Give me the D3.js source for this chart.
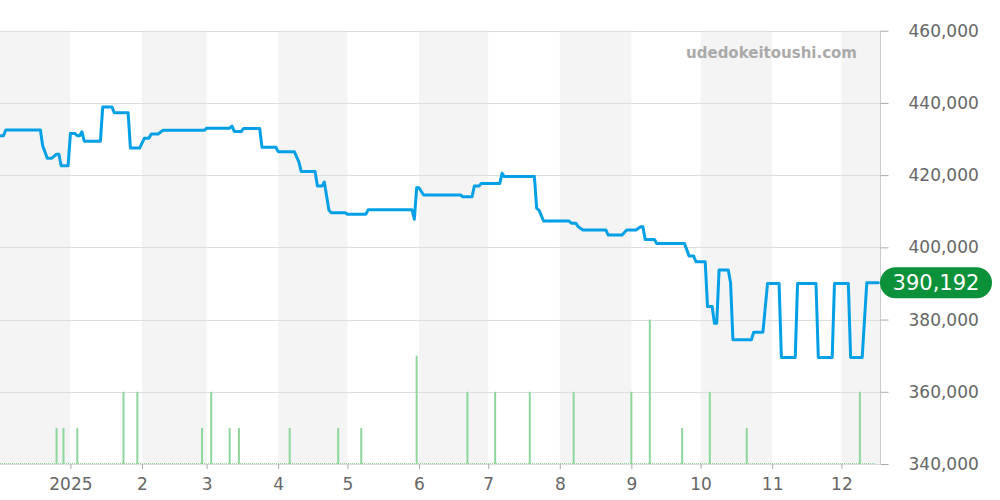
<!DOCTYPE html>
<html>
<head>
<meta charset="utf-8">
<script src="https://cdn.jsdelivr.net/npm/d3@7"></script>
<style>
  html, body { margin: 0; padding: 0; background: #fff; }
  svg { display: block; font-family: "DejaVu Sans", sans-serif; }
</style>
</head>
<body>
<svg id="chart" width="1000" height="500"></svg>
<script>
// ---- data ----
const priceDates = [
  "2024-12-01","2024-12-03","2024-12-04","2024-12-19","2024-12-20","2024-12-22","2024-12-24","2024-12-26","2024-12-27","2024-12-28","2024-12-31",
  "2025-01-01","2025-01-03","2025-01-04","2025-01-05","2025-01-06","2025-01-07","2025-01-14","2025-01-15","2025-01-19","2025-01-20","2025-01-26","2025-01-27","2025-01-31",
  "2025-02-02","2025-02-04","2025-02-05","2025-02-08","2025-02-10","2025-02-28",
  "2025-03-01","2025-03-11","2025-03-12","2025-03-13","2025-03-16","2025-03-17","2025-03-24","2025-03-25","2025-03-31",
  "2025-04-01","2025-04-08","2025-04-10","2025-04-11","2025-04-17","2025-04-18","2025-04-20","2025-04-21","2025-04-23","2025-04-24","2025-04-30",
  "2025-05-01","2025-05-09","2025-05-10","2025-05-29","2025-05-30","2025-05-31",
  "2025-06-01","2025-06-03","2025-06-19","2025-06-20","2025-06-24","2025-06-25","2025-06-27","2025-06-28",
  "2025-07-06","2025-07-07","2025-07-08","2025-07-21","2025-07-22","2025-07-23","2025-07-25",
  "2025-08-05","2025-08-06","2025-08-08","2025-08-09","2025-08-11","2025-08-21","2025-08-22","2025-08-28","2025-08-30",
  "2025-09-03","2025-09-05","2025-09-06","2025-09-07","2025-09-11","2025-09-12","2025-09-24","2025-09-26","2025-09-28","2025-09-29",
  "2025-10-03","2025-10-04","2025-10-06","2025-10-07","2025-10-08","2025-10-09","2025-10-13","2025-10-14","2025-10-15","2025-10-23","2025-10-24","2025-10-28","2025-10-30",
  "2025-11-04","2025-11-05","2025-11-11","2025-11-12","2025-11-20","2025-11-21","2025-11-27","2025-11-28",
  "2025-12-04","2025-12-05","2025-12-10","2025-12-12","2025-12-17"
];
const priceValues = [
  430900,430900,432500,432500,428100,424700,424700,425800,425800,422600,422600,
  431500,431500,430900,430900,432000,429400,429400,438900,438900,437300,437300,427500,427500,
  430200,430200,431400,431400,432400,432400,
  433000,433000,433600,432100,432100,432900,432900,427700,427700,
  426500,426500,423600,421000,421000,417000,417000,418100,410300,409600,409600,
  409200,409200,410400,410400,407800,416500,
  416500,414500,414500,414000,414000,417000,417000,417700,
  417700,420500,419600,419600,410800,410300,407300,
  407300,406700,406700,405700,404800,404800,403400,403400,404800,
  404800,405700,405700,402200,402200,401100,401100,397600,397600,396000,
  396000,383600,383600,379000,379000,393700,393700,390100,374400,374400,376500,376500,390000,
  390000,369500,369500,390000,390000,369500,369500,390000,
  390000,369500,369500,390192,390192
];
const volumeDates = [
  "2024-12-26","2024-12-29","2025-01-04","2025-01-24","2025-01-30","2025-02-27","2025-03-03","2025-03-11","2025-03-15",
  "2025-04-06","2025-04-27","2025-05-07","2025-05-31","2025-06-22","2025-07-04","2025-07-19","2025-08-07",
  "2025-09-01","2025-09-09","2025-09-23","2025-10-05","2025-10-21","2025-12-09"
];
const volumeValues = [1,1,1,2,2,1,2,1,1, 1,1,1,3,2,2,2,2, 2,4,1,2,1,2];
const yTicks = [340000,360000,380000,400000,420000,440000,460000];
const monthTickLabels = ["2025","2","3","4","5","6","7","8","9","10","11","12"];
const lastPriceLabel = "390,192";
const watermark = "udedokeitoushi.com";

// ---- layout ----
const W = 1000, H = 500;
const plot = { left: 0, right: 880, top: 30.7, bottom: 464 };
const parse = d3.timeParse("%Y-%m-%d");

const x = d3.scaleTime()
  .domain([new Date(2024, 11, 1, 12), new Date(2025, 11, 17, 17, 17)])
  .range([plot.left, plot.right]);
const y = d3.scaleLinear().domain([340000, 460000]).range([plot.bottom, plot.top]);
const yVol = d3.scaleLinear().domain([0, 12]).range([plot.bottom, plot.top]);

const svg = d3.select("#chart");

// shaded alternating month bands
const monthStarts = d3.timeMonth.range(new Date(2024, 11, 1), new Date(2026, 0, 1));
const bands = svg.append("g");
monthStarts.forEach((m, i) => {
  if (i % 2 === 0) {
    const x0 = Math.max(plot.left, x(m));
    const x1 = Math.min(plot.right, x(d3.timeMonth.offset(m, 1)));
    if (x1 > x0) bands.append("rect")
      .attr("x", x0).attr("y", plot.top).attr("width", x1 - x0).attr("height", plot.bottom - plot.top)
      .attr("fill", "#f4f4f4");
  }
});

// horizontal gridlines
svg.append("g").selectAll("line").data(yTicks).join("line")
  .attr("x1", plot.left).attr("x2", plot.right)
  .attr("y1", d => Math.round(y(d)) + 0.5).attr("y2", d => Math.round(y(d)) + 0.5)
  .attr("stroke", "#dedede").attr("stroke-width", 1);

// right axis
const yAxis = d3.axisRight(y).tickValues(yTicks).tickSize(8).tickPadding(20)
  .tickFormat(d3.format(","));
const gy = svg.append("g").attr("transform", `translate(${plot.right + 0.5},0)`).call(yAxis);
gy.select(".domain").attr("stroke", "#ccc").attr("d", `M0,${plot.top}V${plot.bottom}`);
gy.selectAll(".tick line").attr("stroke", "#aaa");
gy.selectAll(".tick text").attr("fill", "#666").attr("font-size", 17)
  .attr("font-family", "DejaVu Sans, sans-serif");

// bottom axis
const monthTicks = d3.timeMonth.range(new Date(2025, 0, 1), new Date(2025, 11, 2));
const xAxis = d3.axisBottom(x).tickValues(monthTicks).tickSize(5).tickPadding(9)
  .tickFormat((d, i) => monthTickLabels[i]);
const gx = svg.append("g").attr("transform", `translate(0,${plot.bottom})`).call(xAxis);
gx.select(".domain").remove();
gx.selectAll(".tick line").attr("stroke", "#aaa");
gx.selectAll(".tick text").attr("fill", "#666").attr("font-size", 17)
  .attr("font-family", "DejaVu Sans, sans-serif");

// volume baseline (dotted)
svg.append("line")
  .attr("x1", plot.left).attr("x2", plot.right - 4)
  .attr("y1", plot.bottom - 0.5).attr("y2", plot.bottom - 0.5)
  .attr("stroke", "#8fd69c").attr("stroke-width", 1).attr("stroke-dasharray", "1,1");

// volume bars
const vol = volumeDates.map((d, i) => ({ date: parse(d), v: volumeValues[i] }));
svg.append("g").selectAll("line").data(vol).join("line")
  .attr("x1", d => x(d.date)).attr("x2", d => x(d.date))
  .attr("y1", yVol(0)).attr("y2", d => yVol(d.v))
  .attr("stroke", "#8fd69c").attr("stroke-width", 2);

// price line
const prices = priceDates.map((d, i) => ({ date: parse(d), v: priceValues[i] }));
const line = d3.line().x(d => x(d.date)).y(d => y(d.v)).curve(d3.curveLinear);
svg.append("path").datum(prices)
  .attr("d", line)
  .attr("fill", "none").attr("stroke", "#03a0e6").attr("stroke-width", 3)
  .attr("stroke-linejoin", "round").attr("stroke-linecap", "round");

// watermark
svg.append("text")
  .attr("x", 857).attr("y", 58).attr("text-anchor", "end")
  .attr("font-size", 15).attr("font-weight", "bold").attr("fill", "#aaa")
  .text(watermark);

// last price badge
const lastVal = priceValues[priceValues.length - 1];
const by = y(lastVal);
svg.append("rect")
  .attr("x", 880).attr("y", by - 15.5).attr("width", 112).attr("height", 31)
  .attr("rx", 15.5).attr("ry", 15.5).attr("fill", "#0b9139");
svg.append("text")
  .attr("x", 936).attr("y", by).attr("dy", "0.36em").attr("text-anchor", "middle")
  .attr("font-size", 21).attr("fill", "#fff").text(lastPriceLabel);
</script>
</body>
</html>
